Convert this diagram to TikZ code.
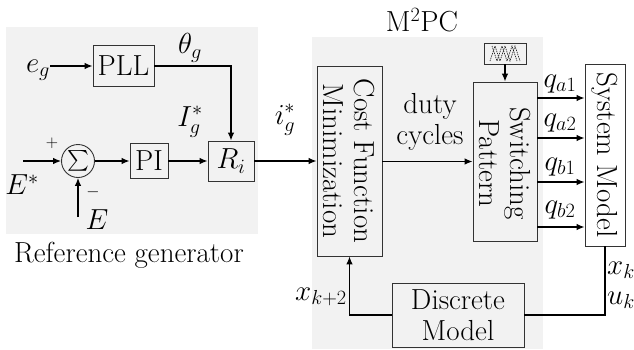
\RequirePackage{fix-cm}
\documentclass[tikz,border=0pt]{standalone}
\usepackage{amsmath}
\usepackage{fontspec}
\usetikzlibrary{arrows.meta}
\begin{document}
\begin{tikzpicture}[x=1pt,y=-1pt,
  every node/.style={font=\fontsize{29}{31}\selectfont, inner sep=0pt},
  blk/.style={draw=black!80, line width=0.9pt},
  ln/.style={line width=1.1pt},
  arr/.style={line width=1.1pt, -{Latex[length=8pt,width=6.5pt]}},
  small/.style={font=\fontsize{17}{18}\selectfont}]
\useasboundingbox (0,0) rectangle (634,349);
% backgrounds
\fill[gray!10] (6,27) rectangle (258,234);
\fill[gray!10] (312,37) rectangle (543,349);
% reference generator
\node[blk,minimum width=61pt,minimum height=41pt] (pll) at (123.5,66) {PLL};
\node (eg) at (38,70) {$e_g$};
\node[blk,minimum width=38pt,minimum height=35pt] (pi) at (149,161) {PI};
\node[blk,minimum width=46pt,minimum height=40pt] (ri) at (231,161) {$R_i$};
\node[blk,circle,minimum size=33pt,font=\fontsize{20}{20}\selectfont] (sum) at (78,161) {$\sum$};
\node (theta) at (190,48) {$\theta_g$};
\node (Ig) at (190,122) {$I_g^*$};
\node (ig) at (285,120) {$i_g^*$};
\node (estar) at (22,185) {$E^*$};
\node[small] (plus) at (52,143) {$+$};
\node[small] (minus) at (93,192) {$-$};
\node (E) at (97,220) {$E$};
\node (refgen) at (129,255) {Reference generator};
\coordinate (estarin) at (23,161);
\coordinate (ein) at (78,217);
\draw[arr] (eg.east |- pll.west) -- (pll.west);
\draw[arr] (pll.east) -| (ri.north);
\draw[arr] (estarin) -- (sum.west);
\draw[arr] (ein) -- (sum.south);
\draw[arr] (sum.east) -- (pi.west);
\draw[arr] (pi.east) -- (ri.west);
% M2PC
\node (m2pc) at (422,20) {M\textsuperscript{2}PC};
\node[blk,minimum width=65pt,minimum height=190pt] (cost) at (349.5,161) {};
\node[rotate=-90,align=center] (costtxt) at (cost) {Cost Function\\Minimization};
\node[align=center] (duty) at (430,122) {duty\\cycles};
\node[blk,minimum width=64pt,minimum height=159pt] (sw) at (505,161.5) {};
\node[rotate=-90,align=center] (swtxt) at ([yshift=-2pt]sw.center) {Switching\\Pattern};
\node[blk,minimum width=42pt,minimum height=21pt] (car) at (505,53.5) {};
\node[blk,minimum width=40pt,minimum height=182pt] (sys) at (605,155) {};
\node[rotate=-90] (systxt) at (sys) {System Model};
\node[blk,minimum width=132pt,minimum height=64pt,align=center] (dm) at (458,315) {Discrete\\Model};
\draw[arr] (ri.east) -- (ri.east -| cost.west);
\draw[arr] (cost.east |- sw.west) -- (sw.west);
\draw[arr] (car.south) -- (sw.north);
% carrier icon
\draw[line width=0.6pt, dash pattern=on 1.4pt off 0.9pt]
  (490,61) -- (495,46) -- (500,61) -- (505,46) -- (510,61) -- (515,46) -- (520,61);
\draw[line width=0.6pt, dash pattern=on 1.4pt off 0.9pt]
  (492,46) -- (497,61) -- (502,46) -- (507,61) -- (512,46) -- (517,61);
% switching signals
\draw[arr] ([yshift=63.5pt]sw.east) -- ([yshift=63.5pt]sw.east -| sys.west);
\draw[arr] ([yshift=23.5pt]sw.east) -- ([yshift=23.5pt]sw.east -| sys.west);
\draw[arr] ([yshift=-20.5pt]sw.east) -- ([yshift=-20.5pt]sw.east -| sys.west);
\draw[arr] ([yshift=-65.5pt]sw.east) -- ([yshift=-65.5pt]sw.east -| sys.west);
\node (qa1) at (560,84) {$q_{a1}$};
\node (qa2) at (560,123) {$q_{a2}$};
\node (qb1) at (560,167) {$q_{b1}$};
\node (qb2) at (560,210) {$q_{b2}$};
% feedback
\draw[ln] (sys.south) |- (dm.east);
\draw[arr] (dm.west) -| (cost.south);
\node (xk) at (621,270) {$x_k$};
\node (uk) at (621,300) {$u_k$};
\node[anchor=east] (xk2) at (347,297) {$x_{k+2}$};
\end{tikzpicture}
\end{document}
